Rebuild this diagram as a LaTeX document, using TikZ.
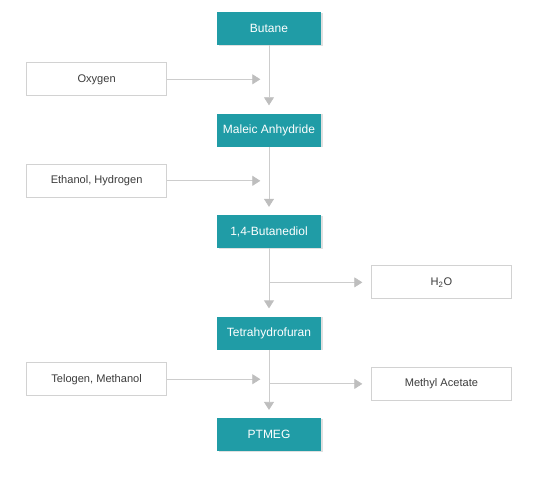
\documentclass[tikz,border=0pt]{standalone}
\usepackage{fontspec}
\setmainfont{Liberation Sans}
\usetikzlibrary{arrows.meta,positioning,calc,shadows}
\definecolor{tealbox}{RGB}{32,156,166}
\definecolor{linegrey}{RGB}{205,205,205}
\definecolor{tipgrey}{RGB}{190,190,190}
\definecolor{framegrey}{RGB}{210,210,210}
\definecolor{textgrey}{RGB}{60,60,60}

\begin{document}
\begin{tikzpicture}[
    stage/.style={rectangle, fill=tealbox, text=white,
        minimum width=78pt, minimum height=24.75pt, inner sep=0pt,
        font=\fontsize{9}{10}\selectfont,
        drop shadow={shadow xshift=1.6pt, shadow yshift=-0.6pt, opacity=0.12, fill=black}},
    feed/.style={rectangle, draw=framegrey, line width=0.6pt, fill=white, text=textgrey,
        minimum width=105pt, minimum height=24.75pt, inner sep=0pt,
        font=\fontsize{8.3}{10}\selectfont},
    arr/.style={-{Triangle[length=6pt, width=7.5pt, color=tipgrey]}, line width=0.6pt, linegrey},
    down/.style={arr, shorten >=6pt}
]
    \useasboundingbox (0,0) rectangle (402.75pt,-360.75pt);

    % Main column
    \node[stage] (butane) at (201.75pt,-21.4pt) {Butane};
    \node[stage, below=51pt of butane] (maleic) {Maleic Anhydride};
    \node[stage, below=51pt of maleic] (bdo) {1,4-Butanediol};
    \node[stage, below=51pt of bdo] (thf) {Tetrahydrofuran};
    \node[stage, below=51pt of thf] (ptmeg) {PTMEG};

    % Junctions on the column
    \coordinate (j1) at ($(butane.south)!0.5!(maleic.north)$);
    \coordinate (j2) at ($(maleic.south)!0.5!(bdo.north)$);
    \coordinate (j3) at ($(bdo.south)!0.5!(thf.north)$);
    \coordinate (j4) at ($(thf.south)!0.5!(ptmeg.north)$);

    % Side streams
    \node[feed, left=76.5pt of j1] (oxygen) {Oxygen};
    \node[feed, left=76.5pt of j2] (ethanol) {Ethanol, Hydrogen};
    \node[feed, right=76.5pt of j3] (water) {H\textsubscript{2}O};
    \node[feed, left=76.5pt of j4, yshift=3.5pt] (telogen) {Telogen, Methanol};
    \node[feed, right=76.5pt of j4] (acetate) {Methyl Acetate};

    % Vertical arrows
    \draw[down] (butane) -- (maleic);
    \draw[down] (maleic) -- (bdo);
    \draw[down] (bdo) -- (thf);
    \draw[down] (thf) -- (ptmeg);

    % Inputs and outputs
    \draw[arr, shorten >=6.5pt] (oxygen) -- (oxygen -| j1);
    \draw[arr, shorten >=6.5pt] (ethanol) -- (ethanol -| j2);
    \draw[arr, shorten >=6.5pt] (j3) -- (water);
    \draw[arr, shorten >=6.5pt] (telogen) -- (telogen -| j4);
    \draw[arr, shorten >=6.5pt] (j4) -- (acetate);
\end{tikzpicture}
\end{document}
